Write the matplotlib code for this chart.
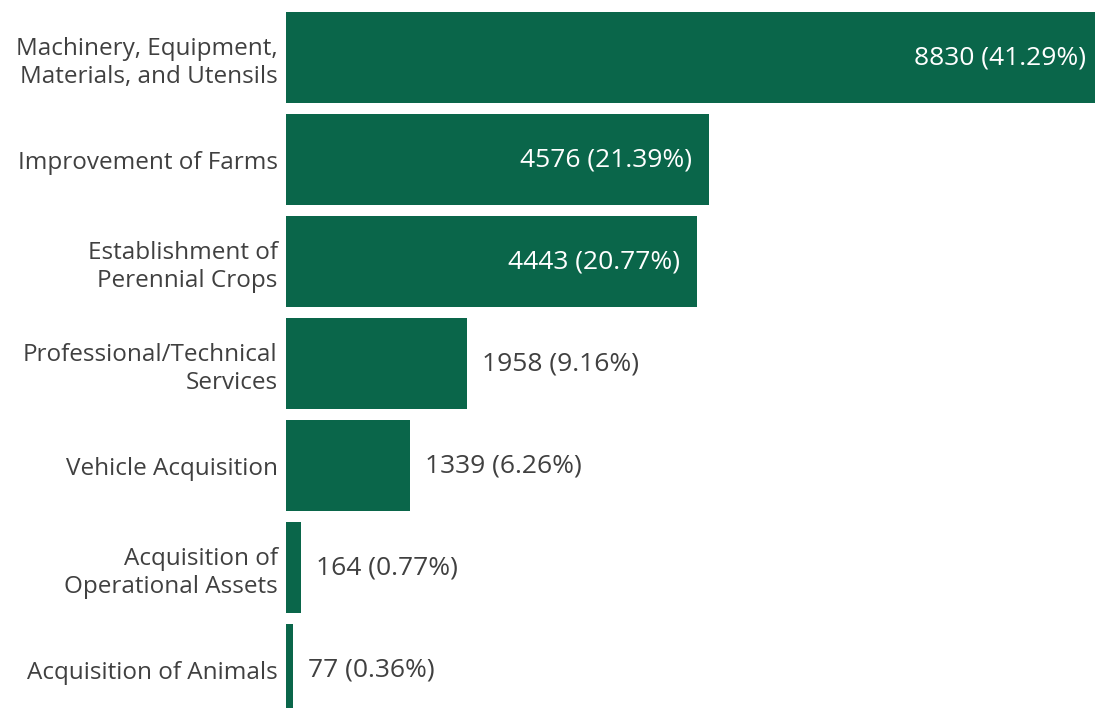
import matplotlib
matplotlib.use("Agg")
import matplotlib.pyplot as plt

# Investment categories and counts
categories = [
    "Machinery, Equipment,\nMaterials, and Utensils",
    "Improvement of Farms",
    "Establishment of\nPerennial Crops",
    "Professional/Technical\nServices",
    "Vehicle Acquisition",
    "Acquisition of\nOperational Assets",
    "Acquisition of Animals",
]
counts = [8830, 4576, 4443, 1958, 1339, 164, 77]
shares = [41.29, 21.39, 20.77, 9.16, 6.26, 0.77, 0.36]

# Bars wide enough to hold their label get it inside
inside = [True, True, True, False, False, False, False]

BAR_COLOR = "#0a664a"
TEXT_COLOR = "#404040"
FONT = ["Open Sans", "DejaVu Sans"]

W, H = 1095, 708
fig = plt.figure(figsize=(W / 100, H / 100), dpi=100)
left = 286 / W
ax = fig.add_axes([left, 0, 1 - left, 1])

ypos = list(range(len(categories)))
ax.barh(ypos, counts, height=0.89, color=BAR_COLOR, edgecolor="none")

ax.set_xlim(0, 8745)
ax.set_ylim(6.377, -0.564)

ax.set_yticks(ypos)
ax.set_yticklabels(categories, fontsize=17.5, color=TEXT_COLOR, family=FONT,
                   linespacing=1.25)
ax.tick_params(axis="y", length=0, pad=6)
ax.set_xticks([])
for sp in ax.spines.values():
    sp.set_visible(False)

for y, c, s, inn in zip(ypos, counts, shares, inside):
    label = f"{c} ({s:.2f}%)"
    if inn:
        ax.annotate(label, (c, y), xytext=(-17, 0), textcoords="offset pixels",
                    ha="right", va="center", color="white", fontsize=19,
                    family=FONT, annotation_clip=False)
    else:
        ax.annotate(label, (c, y), xytext=(15, 0), textcoords="offset pixels",
                    ha="left", va="center", color=TEXT_COLOR, fontsize=19,
                    family=FONT, annotation_clip=False)

fig.savefig("out.png", dpi=100)
